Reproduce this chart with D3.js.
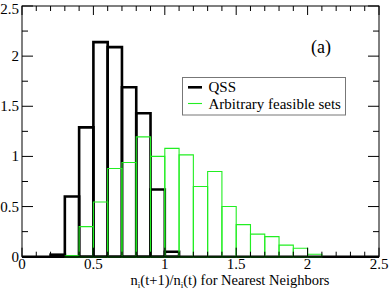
<!DOCTYPE html>
<html>
<head>
<meta charset="utf-8">
<script src="https://cdn.jsdelivr.net/npm/d3@7"></script>
<style>
html,body{margin:0;padding:0;background:#fff;}
svg{display:block;}
</style>
</head>
<body>
<svg id="chart" width="390" height="292" font-family="'Liberation Serif', 'DejaVu Serif', 'Times New Roman', serif"></svg>
<script>
// Bin left edges (width 0.1)
const binStarts = [0,0.1,0.2,0.3,0.4,0.5,0.6,0.7,0.8,0.9,1.0,1.1,1.2,1.3,1.4,1.5,1.6,1.7,1.8,1.9,2.0,2.1,2.2,2.3,2.4];
const qssValues = [0,0,0.02,0.6,1.29,2.14,2.09,1.69,1.43,0.67,0.05,0,0,0,0,0,0,0,0,0,0,0,0,0,0];
const arbValues = [0,0,0,0.01,0.3,0.545,0.88,0.94,1.195,1.0,1.08,1.015,0.70,0.85,0.50,0.32,0.225,0.20,0.115,0.085,0.025,0,0,0,0];
const xTicks = [0,0.5,1,1.5,2,2.5];
const yTicks = [0,0.5,1,1.5,2,2.5];
const seriesNames = ["QSS","Arbitrary feasible sets"];
const binWidth = 0.1;

const svg = d3.select("#chart");
const L = 22, R = 379, T = 6, B = 256.7;
const x = d3.scaleLinear().domain([0,2.5]).range([L,R]);
const y = d3.scaleLinear().domain([0,2.5]).range([B,T]);

const green = "#22ee22";
const FS = 15;

function binPath(x0, v) {
  const xa = x(x0), xb = x(x0 + binWidth), y0 = y(0), y1 = y(v);
  return `M${xa},${y0}L${xa},${y1}L${xb},${y1}L${xb},${y0}Z`;
}

// QSS (black, thick)
const gq = svg.append("g");
binStarts.forEach((s,i)=>{
  if (qssValues[i] > 0) {
    gq.append("path").attr("d", binPath(s, qssValues[i]))
      .attr("fill","none").attr("stroke","#000").attr("stroke-width",2.6).attr("stroke-linejoin","miter");
  }
});
gq.append("line").attr("x1",x(0)).attr("x2",x(2.5)).attr("y1",y(0)).attr("y2",y(0))
  .attr("stroke","#000").attr("stroke-width",2.6);

// Arbitrary (green thin)
const ga = svg.append("g");
binStarts.forEach((s,i)=>{
  if (arbValues[i] > 0) {
    ga.append("path").attr("d", binPath(s, arbValues[i]))
      .attr("fill","none").attr("stroke",green).attr("stroke-width",1.1);
  }
});

// Frame
svg.append("rect").attr("x",L).attr("y",T).attr("width",R-L).attr("height",B-T)
  .attr("fill","none").attr("stroke","#000").attr("stroke-width",1);

// Ticks
const tk = svg.append("g").attr("stroke","#000").attr("stroke-width",1);
d3.range(0,2.5001,0.1).forEach(v=>{
  const major = Math.abs(v*2 - Math.round(v*2)) < 1e-6;
  const len = major ? 9 : 5;
  tk.append("line").attr("x1",x(v)).attr("x2",x(v)).attr("y1",B).attr("y2",B-len);
  tk.append("line").attr("x1",x(v)).attr("x2",x(v)).attr("y1",T).attr("y2",T+len);
});
d3.range(0,2.5001,0.25).forEach(v=>{
  const major = Math.abs(v*2 - Math.round(v*2)) < 1e-6;
  const len = major ? 11 : 6;
  tk.append("line").attr("x1",L).attr("x2",L+len).attr("y1",y(v)).attr("y2",y(v));
  tk.append("line").attr("x1",R).attr("x2",R-len).attr("y1",y(v)).attr("y2",y(v));
});

// Tick labels
svg.append("g").selectAll("text").data(xTicks).join("text")
  .attr("x",d=>x(d)).attr("y",269).attr("text-anchor","middle")
  .attr("font-size",FS).text(d=>d3.format("")(d));
svg.append("g").selectAll("text").data(yTicks).join("text")
  .attr("x",19).attr("y",d=>Math.max(y(d)+5, 14)).attr("text-anchor","end")
  .attr("font-size",FS).text(d=>d3.format("")(d));

// X axis title
const xt = svg.append("text").attr("x",230).attr("y",285).attr("text-anchor","middle").attr("font-size",14.5);
xt.append("tspan").text("n");
xt.append("tspan").attr("font-size",9).attr("dy",3).text("i");
xt.append("tspan").attr("dy",-3).text("(t+1)/n");
xt.append("tspan").attr("font-size",9).attr("dy",3).text("i");
xt.append("tspan").attr("dy",-3).text("(t) for Nearest Neighbors");

// Panel label
svg.append("text").attr("x",311).attr("y",53).attr("font-size",18).text("(a)");

// Legend
const lg = svg.append("g");
lg.append("rect").attr("x",182.5).attr("y",77.5).attr("width",163).attr("height",37.5)
  .attr("fill","#fff").attr("stroke","#777").attr("stroke-width",1);
lg.append("line").attr("x1",188).attr("x2",202).attr("y1",87.3).attr("y2",87.3)
  .attr("stroke","#000").attr("stroke-width",2.6);
lg.append("line").attr("x1",188).attr("x2",202).attr("y1",103.5).attr("y2",103.5)
  .attr("stroke",green).attr("stroke-width",1.1);
lg.append("text").attr("x",208.5).attr("y",91.5).attr("font-size",FS).text(seriesNames[0]);
lg.append("text").attr("x",208.5).attr("y",108.5).attr("font-size",FS).text(seriesNames[1]);
</script>
</body>
</html>
